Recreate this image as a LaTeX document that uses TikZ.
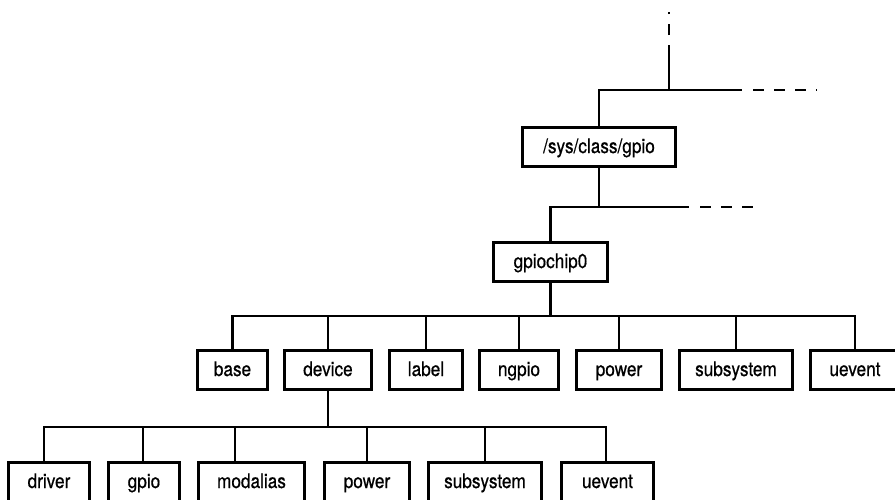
\documentclass[tikz,border=0pt]{standalone}
\usepackage{fontspec}
\setmainfont{TeX Gyre Heros}[FakeStretch=0.86, FakeBold=0.6]

\tikzset{
	dir/.style={draw, line width=2.8pt, inner sep=0pt, minimum height=39.2pt, text height=14pt, text depth=2pt, font=\fontsize{20}{22}\selectfont},
	link/.style={line width=2.6pt},
	more/.style={line width=2.6pt, dash pattern=on 11pt off 10pt},
}

\begin{document}
\begin{tikzpicture}[x=1pt,y=-1pt]
			\useasboundingbox (0,0) rectangle (895,499);
			\clip (0,0) rectangle (895,499);
			
			% Class directory
			\node[dir, minimum width=153.2pt] (sys) at (599,147) {/sys/class/gpio};
			
			% Chip directory
			\node[dir, minimum width=114.2pt] (chip) at (550.5,262) {gpiochip0};
			
			% Chip entries
			\node[dir, minimum width=70.2pt] (base) at (232.5,370) {base};
			\node[dir, minimum width=87.2pt] (device) at (328,370) {device};
			\node[dir, minimum width=73.2pt] (label) at (426,370) {label};
			\node[dir, minimum width=79.2pt] (ngpio) at (519,370) {ngpio};
			\node[dir, minimum width=85.2pt] (power) at (619,370) {power};
			\node[dir, minimum width=113.2pt] (subsystem) at (736,370) {subsystem};
			\node[dir, minimum width=89.2pt] (uevent) at (855,370) {uevent};
			
			% Device entries
			\node[dir, minimum width=81.2pt] (driver) at (49,482) {driver};
			\node[dir, minimum width=71.2pt] (gpio) at (144,482) {gpio};
			\node[dir, minimum width=106.2pt] (modalias) at (251.5,482) {modalias};
			\node[dir, minimum width=85.2pt] (devpower) at (367,482) {power};
			\node[dir, minimum width=113.2pt] (devsubsystem) at (485,482) {subsystem};
			\node[dir, minimum width=92.2pt] (devuevent) at (607.5,482) {uevent};
			
			% Root
			\coordinate (root) at (669,90);
			\coordinate (rootup) at (669,45);
			\coordinate (rootdash) at (669,35);
			\coordinate (roottop) at (669,12);
			\coordinate (rootside) at (742,90);
			\coordinate (rootdash2) at (753,90);
			\coordinate (rootend) at (817,90);
			\draw[link] (sys.north) |- (root) -- (rootside);
			\draw[link] (root) -- (rootup);
			\draw[more] (rootdash) -- (roottop);
			\draw[more] (rootdash2) -- (rootend);
			
			% Class
			\coordinate (cls) at (599,207);
			\coordinate (clsside) at (689,207);
			\coordinate (clsdash) at (700,207);
			\coordinate (clsend) at (753,207);
			\draw[link] (sys.south) -- (cls);
			\draw[link] (chip.north) |- (cls) -- (clsside);
			\draw[more] (clsdash) -- (clsend);
			
			% Chip
			\coordinate (chipbus) at (550.5,316);
			\draw[link] (chip.south) -- (chipbus);
			\draw[link] (chipbus) -| (base.north);
			\draw[link] (chipbus) -| (device.north);
			\draw[link] (chipbus) -| (label.north);
			\draw[link] (chipbus) -| (ngpio.north);
			\draw[link] (chipbus) -| (power.north);
			\draw[link] (chipbus) -| (subsystem.north);
			\draw[link] (chipbus) -| (uevent.north);
			
			% Device
			\coordinate (devbus) at (328,427);
			\draw[link] (device.south) -- (devbus);
			\draw[link] (devbus) -| ([xshift=-5pt]driver.north);
			\draw[link] (devbus) -| ([xshift=-1pt]gpio.north);
			\draw[link] (devbus) -| ([xshift=-16.5pt]modalias.north);
			\draw[link] (devbus) -| (devpower.north);
			\draw[link] (devbus) -| (devsubsystem.north);
			\draw[link] (devbus) -| ([xshift=-1.5pt]devuevent.north);
			
		\end{tikzpicture}
\end{document}
